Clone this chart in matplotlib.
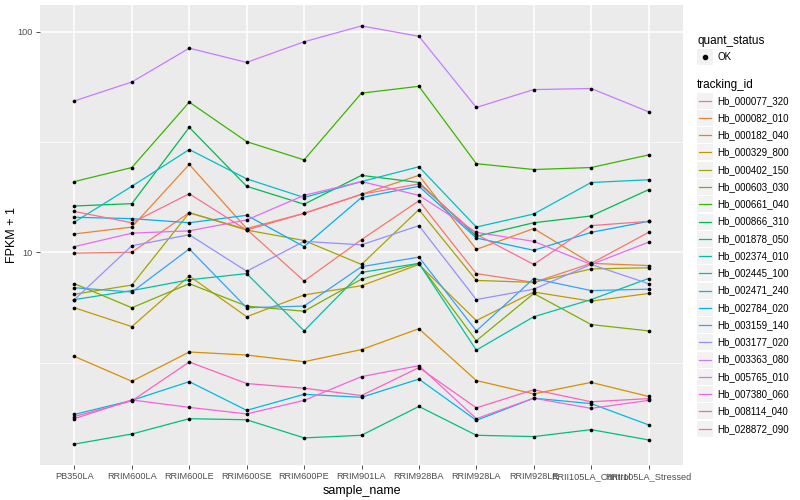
import numpy as np
import matplotlib
matplotlib.use("Agg")
import matplotlib.pyplot as plt
from matplotlib.lines import Line2D
from matplotlib.patches import Rectangle
from matplotlib.ticker import FixedLocator, NullFormatter

plt.rcParams['font.family'] = ['Liberation Sans', 'DejaVu Sans']

samples = ["PB350LA", "RRIM600LA", "RRIM600LE", "RRIM600SE", "RRIM600PE",
           "RRIM901LA", "RRIM928BA", "RRIM928LA", "RRIM928LE",
           "RRII105LA_Control", "RRII105LA_Stressed"]

tracking_ids = ["Hb_000077_320", "Hb_000082_010", "Hb_000182_040", "Hb_000329_800",
                "Hb_000402_150", "Hb_000603_030", "Hb_000661_040", "Hb_000866_310",
                "Hb_001878_050", "Hb_002374_010", "Hb_002445_100", "Hb_002471_240",
                "Hb_002784_020", "Hb_003159_140", "Hb_003177_020", "Hb_003363_080",
                "Hb_005765_010", "Hb_007380_060", "Hb_008114_040", "Hb_028872_090"]

# ggplot default hue palette, 20 levels
colors = ["#F8766D", "#EA8331", "#D89000", "#C09B00", "#A3A500", "#7CAE00",
          "#39B600", "#00BB4E", "#00BF7D", "#00C1A3", "#00BFC4", "#00BAE0",
          "#00B0F6", "#35A2FF", "#9590FF", "#C77CFF", "#E76BF3", "#FA62DB",
          "#FF62BC", "#FF6C91"]

# FPKM + 1, one value per sample
hb_000077_320 = [9.9, 10.0, 15.1, 12.7, 7.4, 11.4, 17.1, 8.0, 7.3, 8.9, 12.3]
hb_000082_010 = [12.1, 13.0, 25.0, 12.8, 15.0, 18.3, 22.3, 10.3, 12.8, 8.9, 8.7]
hb_000182_040 = [3.37, 2.6, 3.53, 3.42, 3.19, 3.62, 4.5, 2.62, 2.28, 2.57, 2.22]
hb_000329_800 = [5.6, 4.6, 7.8, 5.1, 6.4, 7.05, 8.8, 4.9, 6.6, 6.0, 6.5]
hb_000402_150 = [6.45, 7.1, 15.1, 12.6, 11.3, 8.8, 15.6, 7.45, 7.3, 8.4, 8.5]
hb_000603_030 = [7.2, 5.6, 7.2, 5.7, 5.4, 7.55, 8.9, 3.97, 6.5, 4.7, 4.4]
hb_000661_040 = [20.9, 24.2, 47.9, 31.7, 26.2, 52.6, 56.5, 25.2, 23.7, 24.2, 27.6]
hb_000866_310 = [16.2, 16.6, 36.8, 19.9, 16.5, 22.3, 20.7, 11.8, 13.6, 14.6, 19.2]
hb_001878_050 = [1.35, 1.50, 1.76, 1.74, 1.44, 1.48, 2.0, 1.48, 1.46, 1.57, 1.41]
hb_002374_010 = [6.1, 6.7, 7.5, 8.0, 4.4, 8.1, 8.9, 3.6, 5.1, 6.1, 7.6]
hb_002445_100 = [13.7, 19.9, 29.2, 21.5, 17.7, 20.9, 24.4, 13.0, 14.9, 20.7, 21.3]
hb_002471_240 = [1.84, 2.13, 2.59, 1.92, 2.27, 2.2, 2.66, 1.73, 2.18, 2.06, 1.65]
hb_002784_020 = [14.4, 14.2, 13.6, 14.7, 10.6, 17.7, 19.9, 11.6, 10.2, 12.3, 13.8]
hb_003159_140 = [6.9, 6.6, 10.35, 5.6, 5.7, 8.6, 9.5, 4.4, 7.6, 6.7, 6.8]
hb_003177_020 = [6.1, 10.7, 12.0, 8.2, 11.2, 10.8, 13.2, 6.1, 6.8, 8.8, 7.2]
hb_003363_080 = [48.5, 59.1, 84.1, 72.5, 89.9, 106.1, 95.2, 45.3, 54.6, 55.2, 43.3]
hb_005765_010 = [10.6, 12.2, 12.5, 14.0, 18.1, 20.9, 18.1, 12.3, 11.2, 8.8, 11.1]
hb_007380_060 = [1.76, 2.14, 1.98, 1.85, 2.13, 2.73, 3.06, 1.76, 2.18, 1.96, 2.13]
hb_008114_040 = [1.80, 2.12, 3.18, 2.54, 2.42, 2.24, 3.0, 1.97, 2.38, 2.10, 2.17]
hb_028872_090 = [15.3, 13.6, 18.4, 12.6, 15.0, 18.3, 20.4, 12.05, 8.8, 13.2, 13.8]

series = [hb_000077_320, hb_000082_010, hb_000182_040, hb_000329_800, hb_000402_150,
          hb_000603_030, hb_000661_040, hb_000866_310, hb_001878_050, hb_002374_010,
          hb_002445_100, hb_002471_240, hb_002784_020, hb_003159_140, hb_003177_020,
          hb_003363_080, hb_005765_010, hb_007380_060, hb_008114_040, hb_028872_090]

W, H = 800, 500
fig = plt.figure(figsize=(8, 5), dpi=100)
ax = fig.add_axes([40 / W, 35 / H, 643 / W, 460 / H])
ax.set_facecolor("#EBEBEB")

x = np.arange(len(samples))
for vals, c in zip(series, colors):
    ax.plot(x, vals, color=c, lw=0.9, zorder=2)
for vals in series:
    ax.scatter(x, vals, s=7, color="black", zorder=3, linewidths=0)

ax.set_yscale("log")
allv = np.concatenate([np.log10(v) for v in series])
lo, hi = allv.min(), allv.max()
pad = 0.05 * (hi - lo)
ax.set_ylim(10 ** (lo - pad), 10 ** (hi + pad))
ax.set_xlim(-0.6, len(samples) - 0.4)

ax.yaxis.set_major_locator(FixedLocator([10, 100]))
ax.set_yticklabels(["10", "100"])
ax.yaxis.set_minor_locator(FixedLocator([10 ** 0.5, 10 ** 1.5]))
ax.yaxis.set_minor_formatter(NullFormatter())
ax.set_xticks(x)
ax.set_xticklabels(samples)

ax.grid(which="major", color="white", lw=1.1, zorder=0)
ax.grid(which="minor", axis="y", color="white", lw=0.5, zorder=0)
ax.set_axisbelow(True)
for s in ax.spines.values():
    s.set_visible(False)
ax.tick_params(which="major", length=3, width=0.6, color="#333333",
               labelsize=6.6, labelcolor="#4D4D4D", pad=2)
ax.tick_params(which="minor", length=0)

ax.set_xlabel("sample_name", fontsize=9, labelpad=3)
ax.set_ylabel("FPKM + 1", fontsize=9, va="center")
ax.yaxis.set_label_coords(-28 / 643, 0.5)

# legends (ggplot style, drawn in figure pixels)
def fx(px):
    return px / W

def fy(py):
    return 1 - py / H

fig.text(fx(697), fy(41), "quant_status", fontsize=8.5, va="center", ha="left")
fig.patches.append(Rectangle((fx(697), fy(65)), 16 / W, 16 / H,
                             transform=fig.transFigure, facecolor="#F2F2F2",
                             edgecolor="none"))
fig.lines.append(Line2D([fx(705)], [fy(57)], marker="o", markersize=3,
                        color="black", transform=fig.transFigure))
fig.text(fx(717), fy(57), "OK", fontsize=7, va="center", ha="left")

fig.text(fx(697), fy(85), "tracking_id", fontsize=8.5, va="center", ha="left")
step = 17.26
for i, (name, c) in enumerate(zip(tracking_ids, colors)):
    cy = 100.7 + i * step
    fig.patches.append(Rectangle((fx(697), fy(cy + 8)), 16 / W, 16 / H,
                                 transform=fig.transFigure, facecolor="#F2F2F2",
                                 edgecolor="none"))
    fig.lines.append(Line2D([fx(699), fx(711)], [fy(cy), fy(cy)], color=c,
                            lw=0.9, transform=fig.transFigure))
    fig.text(fx(717), fy(cy), name, fontsize=7, va="center", ha="left")

fig.savefig("out.png", dpi=100)
